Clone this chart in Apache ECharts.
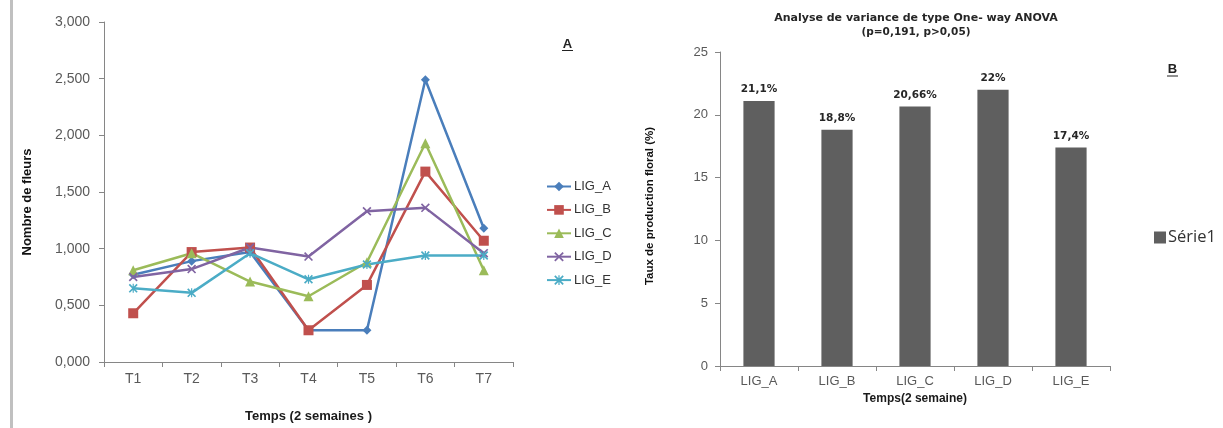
<!DOCTYPE html>
<html>
<head>
<meta charset="utf-8">
<script src="https://cdn.jsdelivr.net/npm/echarts@6/dist/echarts.min.js"></script>
<style>
  html, body { margin: 0; padding: 0; background: #ffffff; }
  #chart { width: 1223px; height: 428px; }
</style>
</head>
<body>
<div id="chart"></div>
<script>
// Panel A: flower counts per line over time (x 1000)
const periods = ['T1', 'T2', 'T3', 'T4', 'T5', 'T6', 'T7'];
const ligA = [0.77, 0.89, 0.97, 0.28, 0.28, 2.49, 1.18];
const ligB = [0.43, 0.97, 1.01, 0.28, 0.68, 1.68, 1.07];
const ligC = [0.81, 0.96, 0.71, 0.58, 0.88, 1.93, 0.81];
const ligD = [0.75, 0.82, 1.01, 0.93, 1.33, 1.36, 0.96];
const ligE = [0.65, 0.61, 0.96, 0.73, 0.86, 0.94, 0.94];
const seriesNames = ['LIG_A', 'LIG_B', 'LIG_C', 'LIG_D', 'LIG_E'];

// Panel B: floral production rate per line (%)
const lines = ['LIG_A', 'LIG_B', 'LIG_C', 'LIG_D', 'LIG_E'];
const rates = [21.1, 18.8, 20.66, 22, 17.4];
const rateLabels = ['21,1%', '18,8%', '20,66%', '22%', '17,4%'];

const axisGrey = '#868686';
const tickText = '#595959';
const sans = 'Liberation Sans, Arial, sans-serif';
const boldSans = 'DejaVu Sans, sans-serif';

// Custom marker outlines
const crossPath = 'path://M0,1.3 L1.3,0 L10,8.7 L8.7,10 Z M8.7,0 L10,1.3 L1.3,10 L0,8.7 Z';
const starPath = 'path://M0,1.3 L1.3,0 L10,8.7 L8.7,10 Z M8.7,0 L10,1.3 L1.3,10 L0,8.7 Z M4.35,0 L5.65,0 L5.65,10 L4.35,10 Z';

const lineDefs = [
  { name: 'LIG_A', data: ligA, color: '#4a7ebb', symbol: 'diamond', size: 9 },
  { name: 'LIG_B', data: ligB, color: '#c0504d', symbol: 'rect', size: 10 },
  { name: 'LIG_C', data: ligC, color: '#9bbb59', symbol: 'triangle', size: 10 },
  { name: 'LIG_D', data: ligD, color: '#8064a2', symbol: crossPath, size: 9 },
  { name: 'LIG_E', data: ligE, color: '#4bacc6', symbol: starPath, size: 9 }
];

const fmtComma3 = v => v.toFixed(3).replace('.', ',');

const chart = echarts.init(document.getElementById('chart'), null, { renderer: 'canvas' });

const option = {
  animation: false,
  backgroundColor: '#ffffff',
  legend: [
    {
      data: seriesNames,
      orient: 'vertical',
      left: 541,
      top: 175,
      itemWidth: 24,
      itemHeight: 12,
      itemGap: 10.4,
      textStyle: { fontFamily: sans, fontSize: 13, color: '#333333', padding: [0, 0, 0, -2] }
    },
    {
      data: ['Série1'],
      orient: 'vertical',
      left: 1149,
      top: 224,
      icon: 'rect',
      itemWidth: 12,
      itemHeight: 12,
      textStyle: { fontFamily: 'Open Sans, sans-serif', fontSize: 16.5, color: '#333333', padding: [0, 0, 0, -3] }
    }
  ],
  grid: [
    { left: 104, top: 22, width: 409, height: 343 },
    { left: 720, top: 52, width: 390, height: 314 }
  ],
  xAxis: [
    {
      gridIndex: 0,
      type: 'category',
      data: periods,
      boundaryGap: true,
      axisLine: { lineStyle: { color: axisGrey, width: 1 } },
      axisTick: { show: true, length: 5, lineStyle: { color: axisGrey } },
      axisLabel: { fontFamily: sans, fontSize: 14, color: tickText, margin: 10 },
      name: 'Temps (2 semaines )',
      nameLocation: 'middle',
      nameGap: 48,
      nameTextStyle: { fontFamily: sans, fontSize: 13, fontWeight: 'bold', color: '#1a1a1a' }
    },
    {
      gridIndex: 1,
      type: 'category',
      data: lines,
      boundaryGap: true,
      axisLine: { lineStyle: { color: axisGrey, width: 1 } },
      axisTick: { show: true, length: 5, lineStyle: { color: axisGrey } },
      axisLabel: { fontFamily: sans, fontSize: 13, color: tickText, margin: 9 },
      name: 'Temps(2 semaine)',
      nameLocation: 'middle',
      nameGap: 24,
      nameTextStyle: { fontFamily: sans, fontSize: 12, fontWeight: 'bold', color: '#1a1a1a' }
    }
  ],
  yAxis: [
    {
      gridIndex: 0,
      type: 'value',
      min: 0,
      max: 3,
      interval: 0.5,
      splitLine: { show: false },
      axisLine: { show: true, lineStyle: { color: axisGrey, width: 1 } },
      axisTick: { show: true, length: 5, lineStyle: { color: axisGrey } },
      axisLabel: { fontFamily: sans, fontSize: 14, color: tickText, margin: 14, formatter: fmtComma3 }
    },
    {
      gridIndex: 1,
      type: 'value',
      min: 0,
      max: 25,
      interval: 5,
      splitLine: { show: false },
      axisLine: { show: true, lineStyle: { color: axisGrey, width: 1 } },
      axisTick: { show: true, length: 5, lineStyle: { color: axisGrey } },
      axisLabel: { fontFamily: sans, fontSize: 13, color: tickText, margin: 12 }
    }
  ],
  series: [
    ...lineDefs.map(d => ({
      name: d.name,
      type: 'line',
      xAxisIndex: 0,
      yAxisIndex: 0,
      data: d.data,
      symbol: d.symbol,
      symbolSize: d.size,
      showAllSymbol: true,
      lineStyle: { color: d.color, width: 2.5 },
      itemStyle: { color: d.color },
      z: 3
    })),
    {
      name: 'Série1',
      type: 'bar',
      xAxisIndex: 1,
      yAxisIndex: 1,
      data: rates,
      barWidth: '40%',
      itemStyle: { color: '#5f5f5f' },
      label: {
        show: true,
        position: 'top',
        distance: 6,
        fontFamily: boldSans,
        fontSize: 10.5,
        fontWeight: 'bold',
        color: '#262626',
        formatter: p => rateLabels[p.dataIndex]
      }
    }
  ],
  graphic: [
    // frame edge on the left
    { type: 'rect', shape: { x: 10, y: 0, width: 3, height: 428 }, style: { fill: '#c0c0c0' }, silent: true },
    // vertical axis titles
    { type: 'text', x: 27, y: 202, rotation: Math.PI / 2, style: { text: 'Nombre de fleurs', font: 'bold 13px Liberation Sans, Arial, sans-serif', fill: '#111111', align: 'center', verticalAlign: 'middle' } },
    { type: 'text', x: 650, y: 206, rotation: Math.PI / 2, style: { text: 'Taux de production floral (%)', font: 'bold 11.5px Liberation Sans, Arial, sans-serif', fill: '#111111', align: 'center', verticalAlign: 'middle' } },
    // panel letters
    { type: 'text', x: 567.5, y: 44, style: { text: 'A', font: 'bold 13px Liberation Sans, Arial, sans-serif', fill: '#222222', align: 'center', verticalAlign: 'middle' } },
    { type: 'line', shape: { x1: 562, y1: 50.5, x2: 573, y2: 50.5 }, style: { stroke: '#222222', lineWidth: 1 } },
    { type: 'text', x: 1172.5, y: 69.5, style: { text: 'B', font: 'bold 13px Liberation Sans, Arial, sans-serif', fill: '#222222', align: 'center', verticalAlign: 'middle' } },
    { type: 'line', shape: { x1: 1167, y1: 76, x2: 1178, y2: 76 }, style: { stroke: '#222222', lineWidth: 1 } },
    // ANOVA caption above panel B
    { type: 'text', x: 916, y: 18, style: { text: 'Analyse de variance de type One- way ANOVA', font: 'bold 11px DejaVu Sans, sans-serif', fill: '#262626', align: 'center', verticalAlign: 'middle' } },
    { type: 'text', x: 916, y: 32.5, style: { text: '(p=0,191, p>0,05)', font: 'bold 10.5px DejaVu Sans, sans-serif', fill: '#262626', align: 'center', verticalAlign: 'middle' } }
  ]
};

chart.setOption(option);
</script>
</body>
</html>
